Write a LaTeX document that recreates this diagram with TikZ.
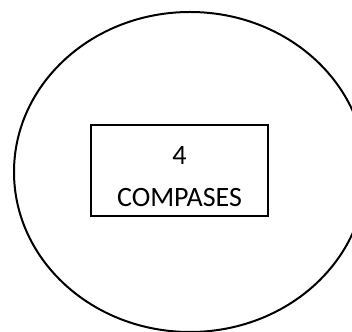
\documentclass[tikz,border=0pt]{standalone}
\usepackage{fontspec}
\setmainfont{Carlito}

\begin{document}
\begin{tikzpicture}[x=1pt,y=1pt]

\useasboundingbox (0,0) rectangle (352,331);
\clip (0,0) rectangle (352,331);

% Outer ellipse
\draw[line width=2] (190,159) ellipse [x radius=176, y radius=160];

% Box
\node[draw, line width=1.5, minimum width=177, minimum height=91] (box) at (179.5,160.5) {};

% Box text
\node[align=center, font=\fontsize{28}{42}\selectfont] (label) at ([yshift=-6]box.center) {4\\COMPASES};

\end{tikzpicture}
\end{document}
